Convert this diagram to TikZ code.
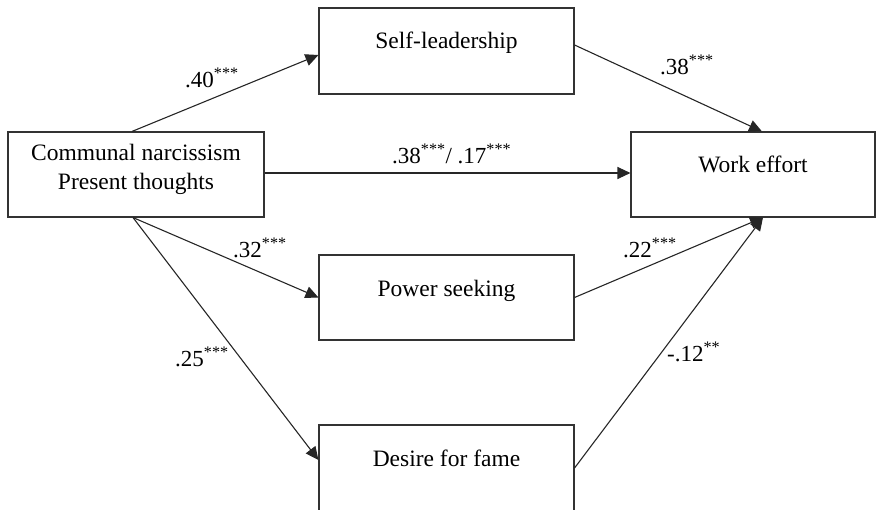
\documentclass[tikz,border=0pt]{standalone}
\usepackage{fontspec}
\setmainfont{Liberation Serif}
\usetikzlibrary{arrows.meta}
\begin{document}
\begin{tikzpicture}[x=1pt,y=-1pt,
  box/.style={draw=black!80, line width=1.1pt, minimum height=85pt, inner sep=0pt},
  lbl/.style={font=\fontsize{23}{28}\selectfont, inner sep=0pt, anchor=base west},
  txt/.style={font=\fontsize{23.5}{29}\selectfont, inner sep=0pt, anchor=base},
  arr/.style={draw=black!85, line width=1.1pt, -{Triangle[length=13pt,width=12pt]}}]
\useasboundingbox (0,0) rectangle (876,510);
% boxes
\node[box, minimum width=255pt, minimum height=86pt] (SL) at (446.5,51) {};
\node[box, minimum width=256pt] (CN) at (136,174.5) {};
\node[box, minimum width=244pt] (WE) at (753,174.5) {};
\node[box, minimum width=255pt] (PS) at (446.5,297.5) {};
\node[box, minimum width=255pt, minimum height=90pt] (DF) at (446.5,470) {};
% box texts
\node[txt] (SLt) at (446.5,49) {Self-leadership};
\node[txt] (CNa) at (136,161) {Communal narcissism};
\node[txt] (CNb) at (136,190) {Present thoughts};
\node[txt] (WEt) at (753,173) {Work effort};
\node[txt] (PSt) at (446.5,297) {Power seeking};
\node[txt] (DFt) at (446.5,467) {Desire for fame};
% connectors
\draw[arr] ([xshift=-4pt]CN.north) -- ([yshift=-4pt]SL.west);
\draw[arr] ([yshift=6pt]SL.east) -- ([xshift=9pt]WE.north);
\draw[arr] ([yshift=1.5pt]CN.east) -- ([yshift=1.5pt]WE.west);
\draw[arr] ([xshift=-3pt]CN.south) -- (PS.west);
\draw[arr] ([xshift=-3pt]CN.south) -- ([yshift=10pt]DF.west);
\draw[arr] (PS.east) -- ([xshift=10pt]WE.south);
\draw[arr] ([yshift=2pt]DF.east) -- ([xshift=10pt]WE.south);
% labels
\node[lbl] (l1) at (185,88) {.40\textsuperscript{***}};
\node[lbl] (l2) at (660,75) {.38\textsuperscript{***}};
\node[lbl] (l3) at (392,164) {.38\textsuperscript{***}/ .17\textsuperscript{***}};
\node[lbl] (l4) at (233,258) {.32\textsuperscript{***}};
\node[lbl] (l5) at (623,258) {.22\textsuperscript{***}};
\node[lbl] (l6) at (175,367) {.25\textsuperscript{***}};
\node[lbl] (l7) at (667,362) {-.12\textsuperscript{**}};
\end{tikzpicture}
\end{document}
